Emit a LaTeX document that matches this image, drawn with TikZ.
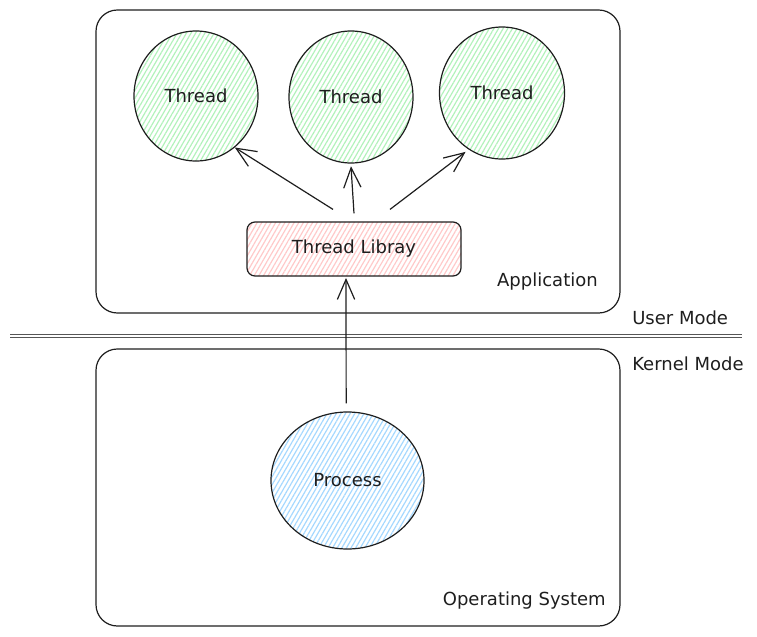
\documentclass[tikz,border=0pt]{standalone}
\usepackage{fontspec}
\setmainfont{DejaVu Sans}
\usetikzlibrary{shapes.geometric,arrows.meta,patterns.meta,calc}
\definecolor{ink}{HTML}{1E1E1E}
\definecolor{hgreen}{HTML}{B2F2BB}
\definecolor{hred}{HTML}{FFC9C9}
\definecolor{hblue}{HTML}{A5D8FF}
\tikzset{
  every node/.style={font=\fontsize{13.5pt}{16pt}\selectfont, text=ink},
  frame/.style={draw=ink, line width=0.9pt, rounded corners=16pt, inner sep=0pt},
  hatch/.style={pattern={Lines[angle=60,distance=3pt,line width=0.9pt]}, pattern color=#1},
  thread/.style={ellipse, draw=ink, line width=0.9pt, inner sep=0pt, hatch=hgreen},
  proc/.style={ellipse, draw=ink, line width=0.9pt, inner sep=0pt, hatch=hblue},
  libbox/.style={draw=ink, line width=0.9pt, rounded corners=6pt, inner sep=0pt, hatch=hred},
  arr/.style={draw=ink, line width=0.9pt, -{Straight Barb[length=15pt,width=13pt]}},
  sep/.style={draw=ink!75, line width=0.7pt},
  label/.style={inner sep=0pt}
}
\begin{document}
\begin{tikzpicture}[x=0.75pt,y=-0.75pt]
\useasboundingbox (0,0) rectangle (757,636);
% containers
\node[frame, minimum width=393pt, minimum height=227.25pt] (app) at (358,161.5) {};
\node[frame, minimum width=393pt, minimum height=207.75pt] (os) at (358,487.5) {};
% threads
\node[thread, minimum width=93pt, minimum height=97.5pt] (t1) at (196,96) {Thread};
\node[thread, minimum width=93pt, minimum height=99pt] (t2) at (351,97) {Thread};
\node[thread, minimum width=93.75pt, minimum height=99pt] (t3) at (502,93) {Thread};
% library
\node[libbox, minimum width=160.5pt, minimum height=40.5pt] (lib) at (354,249) {Thread Libray};
% process
\node[proc, minimum width=114.75pt, minimum height=102.75pt] (p) at (347.5,480.5) {Process};
% labels
\node[label, anchor=east] (applbl) at (598,282) {Application};
\node[label, anchor=east] (oslbl) at (606,601) {Operating System};
\node[label, anchor=west] (user) at (632,318) {User Mode};
\node[label, anchor=west] (kern) at (632,364) {Kernel Mode};
% separator (double line)
\coordinate (sepLa) at (10,334.2);
\coordinate (sepRa) at (742,334.2);
\coordinate (sepLb) at (10,337.8);
\coordinate (sepRb) at (742,337.8);
\draw[sep] (sepLa) -- (sepRa);
\draw[sep] (sepLb) -- (sepRb);
% arrows
\draw[arr] ($(lib.north)+(-21,-12)$) -- (t1.-53);
\draw[arr] ([yshift=6pt]lib.north) -- ([yshift=-2pt]t2.south);
\draw[arr] ($(lib.north)+(36,-12)$) -- ([shift={(-2pt,-2pt)}]t3.-121);
\draw[arr] ([shift={(-1pt,6pt)}]p.north) -- ([shift={(-6pt,-1pt)}]lib.south);
\end{tikzpicture}
\end{document}
